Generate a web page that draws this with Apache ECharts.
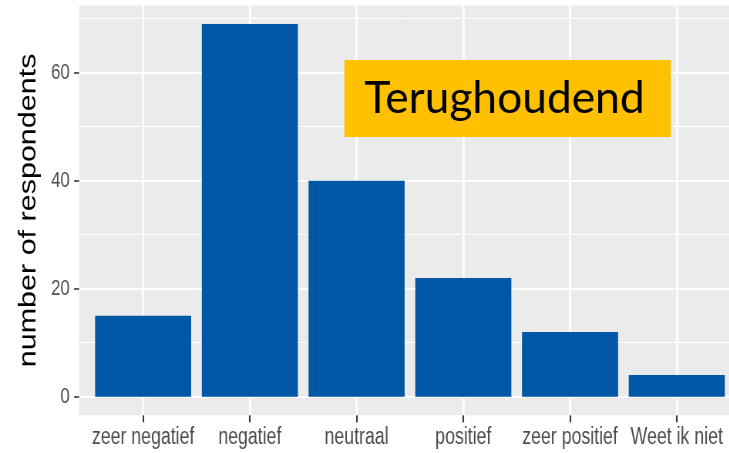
<!DOCTYPE html>
<html><head><meta charset="utf-8">
<script src="https://cdn.jsdelivr.net/npm/echarts@6/dist/echarts.min.js"></script>
<style>
html,body{margin:0;padding:0;overflow:hidden;background:#fff;width:729px;height:453px}
#wrap{width:729px;height:453px;overflow:hidden;position:relative}
#chart{height:453px;transform-origin:0 0;position:absolute;left:0;top:0}
</style></head><body><div id="wrap"><div id="chart"></div></div>
<script>
const categories = ['zeer negatief','negatief','neutraal','positief','zeer positief','Weet ik niet'];
const counts = [15,69,40,22,12,4];
const yTickValues = [0,20,40,60];
const yMinorValues = [10,30,50,70];
const yAxisTitle = 'number of respondents';
const annotationText = 'Terughoudend';

const S = 0.77;                 // horizontal squeeze of the original picture
const W = 729 / S;
const el = document.getElementById('chart');
el.style.width = W + 'px';
el.style.transform = 'scaleX(' + S + ')';
const chart = echarts.init(el, null, {renderer:'canvas', width: W, height: 453});

const gridLeft = 79 / S, gridWidth = 661 / S;
const nCat = categories.length;
const band = gridWidth / (nCat - 1 + 1.2);
const maxV = Math.max(...counts);
const yMin = -maxV * 0.05, yMax = maxV * 1.05;
const pxPerUnit = 5.4;
const gridHeight = (yMax - yMin) * pxPerUnit;
const gridTop = 396.7 - yMax * pxPerUnit;

const mctx = document.createElement('canvas').getContext('2d');
const annFont = '44px Lato';
mctx.font = annFont;
const annW = mctx.measureText(annotationText).width;
const annFinalScale = 280 / annW;          // overall horizontal scale of the label
const annScale = annFinalScale / S;
const padL = 20 / annFinalScale, padR = 26 / annFinalScale;

const option = {
  animation: false,
  grid: {left: gridLeft, top: gridTop, width: gridWidth, height: gridHeight,
         show: true, backgroundColor: '#EBEBEB', borderWidth: 0, containLabel: false,
         outerBoundsMode: 'none'},
  xAxis: {
    type: 'value', min: -0.6, max: nCat - 1 + 0.6,
    axisLine: {show: false, onZero: false},
    axisTick: {show: true, customValues: categories.map((c,i)=>i), length: 7,
               lineStyle: {color: '#333333', width: 1.6/S}},
    axisLabel: {customValues: categories.map((c,i)=>i), formatter: v => categories[Math.round(v)] || '',
                color: '#4D4D4D', fontFamily: 'Liberation Sans, Arial, sans-serif', fontSize: 23, margin: 11},
    splitLine: {show: true, lineStyle: {color: '#FFFFFF', width: 2/S}}
  },
  yAxis: [{
    type: 'value', min: yMin, max: yMax,
    name: yAxisTitle, nameLocation: 'middle', nameGap: 50, nameRotate: 90,
    nameTextStyle: {color: '#000000', fontFamily: 'Liberation Sans, Arial, sans-serif', fontSize: 30.5},
    axisLine: {show: false, onZero: false},
    axisTick: {show: true, customValues: yTickValues, length: 5/S, lineStyle: {color: '#333333', width: 1.6}},
    axisLabel: {customValues: yTickValues, color: '#4D4D4D', fontFamily: 'Liberation Sans, Arial, sans-serif', fontSize: 22, margin: 12},
    splitLine: {show: true, lineStyle: {color: '#FFFFFF', width: 2}}
  },{
    type: 'value', min: yMin, max: yMax, position: 'left',
    axisLine: {show: false, onZero: false},
    axisTick: {show: false, customValues: yMinorValues},
    axisLabel: {show: false},
    splitLine: {show: true, lineStyle: {color: '#FFFFFF', width: 1}}
  }],
  series: [{
    type: 'bar', yAxisIndex: 0, clip: false,
    data: counts.map((v,i)=>[i, v]),
    barWidth: band * 0.9,
    itemStyle: {color: '#0057A5'},
    z: 3
  }],
  graphic: [{
    type: 'text', z: 100, x: 344 / S, y: 60, scaleX: annScale,
    style: {text: annotationText, font: annFont, fill: '#000000',
            textAlign: 'left', textVerticalAlign: 'top', lineHeight: 44,
            backgroundColor: '#FFC000', padding: [16.5, padR, 16.5, padL]}
  }]
};
chart.setOption(option);
</script></body></html>
